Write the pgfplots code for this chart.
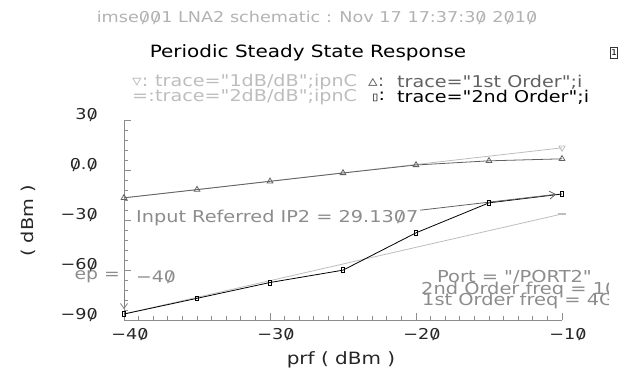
\documentclass[border=0pt]{standalone}
\usepackage{fontspec}
\setmainfont{DejaVu Sans}[FakeStretch=1.18, Ligatures=TeXOff]
\usepackage{graphicx}
\usepackage{pgfplots}
\pgfplotsset{compat=1.18}
\usetikzlibrary{arrows.meta}

\definecolor{axgray}{gray}{0.55}
\definecolor{lgray}{gray}{0.74}
\definecolor{dgray}{gray}{0.38}
\definecolor{tgray}{gray}{0.55}
\definecolor{hgray}{gray}{0.7}

\newcommand{\fs}[1]{\fontsize{#1}{#1}\selectfont}
\newcommand{\z}{\ooalign{0\cr\hidewidth\raisebox{-0.02em}{\scalebox{0.9}[0.85]{/}}\hidewidth\cr}}

\begin{document}
\begin{tikzpicture}[x=1bp,y=1bp]
\path[use as bounding box] (0,0) rectangle (627,369);
\begin{axis}[at={(124bp,49bp)}, anchor=south west, scale only axis,
  width=438bp, height=200bp,
  xmin=-40, xmax=-10, ymin=-90, ymax=30,
  axis lines*=left,
  axis line style={axgray, line width=0.8pt},
  xtick={-40,-30,-20,-10}, xticklabels={−4\z,−3\z,−2\z,−1\z},
  minor x tick num=9,
  ytick={-90,-60,-30,0,30}, yticklabels={−9\z,−6\z,−3\z,\z.\z,3\z},
  minor y tick num=4,
  tick style={axgray, line width=0.8pt},
  major tick length=7bp, minor tick length=4bp,
  tick align=inside,
  xticklabel style={anchor=north, inner sep=0pt, yshift=-8bp, xshift=6bp, font=\fs{15}, text=black!85},
  yticklabel style={anchor=east, inner sep=0pt, xshift=-26bp, yshift=5bp, font=\fs{15}, text=black!85},
  clip=false]
% 1dB/dB reference line
\addplot[lgray, line width=0.8pt, mark=triangle, mark indices={2}, mark size=3.5bp,
  mark options={rotate=180, solid}] coordinates {(-40,-16.7) (-10,13.3)};
% 2dB/dB reference line
\addplot[lgray, line width=0.8pt, mark=-, mark indices={2}, mark size=4bp,
  mark options={line width=1.5pt}] coordinates {(-40,-86.4) (-10,-26.4)};
% 1st order
\addplot[dgray, line width=0.8pt, mark=triangle, mark size=3.3bp] coordinates {
  (-40,-16.7) (-35,-11.8) (-30,-6.8) (-25,-1.8) (-20,3.0) (-15,5.5) (-10,6.7)};
% 2nd order
\addplot[black, line width=0.8pt, mark=square, mark size=2.4bp, mark options={xscale=0.6}] coordinates {
  (-40,-86.4) (-35,-77.0) (-30,-67.5) (-25,-60.1) (-20,-37.7) (-15,-19.7) (-10,-14.4)};
% IP2 annotation arrow
\addplot[dgray, line width=0.8pt, -{Straight Barb[length=6bp,width=8bp]}] coordinates {(-19.7,-24.1) (-10.4,-14.6)};
% extrapolation point arrow
\addplot[gray, line width=0.8pt, -{Straight Barb[length=5bp,width=7bp]}] coordinates {(-40,-74) (-40,-83.5)};
\end{axis}

% header and title
\node[text=hgray, font=\fs{15}, inner sep=0pt] at (317,351) {imse\z\z1 LNA2 schematic : Nov 17 17:37:3\z{} 2\z1\z};
\node[text=black, font=\fs{17}, inner sep=0pt] at (308,316) {Periodic Steady State Response};
\node[draw=black!80, line width=0.6pt, minimum width=7bp, minimum height=11bp, inner sep=0pt, font=\fs{8}] at (614,316) {1};

% legend
\node[anchor=west, inner sep=0pt, text=lgray, font=\fs{16.3}] at (132,287) {▿:};
\node[anchor=west, inner sep=0pt, text=lgray, font=\fs{16.3}] at (155,287) {trace="1dB/dB";ipnC};
\node[anchor=west, inner sep=0pt, text=lgray, font=\fs{16.3}] at (132,272) {=:};
\node[anchor=west, inner sep=0pt, text=lgray, font=\fs{16.3}] at (155,272) {trace="2dB/dB";ipnC};
\node[anchor=west, inner sep=0pt, text=dgray, font=\fs{16.3}] at (368,287) {▵:};
\node[anchor=west, inner sep=0pt, text=dgray, font=\fs{16.3}] at (397,287) {trace="1st Order";i};
\node[anchor=west, inner sep=0pt, text=black, font=\fs{16.3}] at (372,272) {\scalebox{0.6}{▯}:};
\node[anchor=west, inner sep=0pt, text=black, font=\fs{16.3}] at (397,272) {trace="2nd Order";i};

% axis labels
\node[rotate=90, inner sep=0pt, text=black!85, font=\fs{16.4}] at (28,148) {( dBm )};
\node[inner sep=0pt, text=black!85, font=\fs{17}] at (341,9) {prf ( dBm )};

% annotations
\node[anchor=west, inner sep=0pt, text=tgray, font=\fs{16.4}] at (136,151) {Input Referred IP2 = 29.13\z7};
\node[anchor=east, inner sep=0pt, text=tgray, font=\fs{16}] at (120,92) {ep =};
\node[anchor=west, inner sep=0pt, text=tgray, font=\fs{16}] at (136,92) {−4\z};
\begin{scope}
\clip (0,0) rectangle (608,369);
\node[anchor=west, inner sep=0pt, text=tgray, font=\fs{16.5}] at (437,92) {Port = "/PORT2"};
\node[anchor=west, inner sep=0pt, text=tgray, font=\fs{16.5}] at (421,79.5) {2nd Order freq = 1\z};
\node[anchor=west, inner sep=0pt, text=tgray, font=\fs{16.5}] at (422,68) {1st Order freq = 4G};
\end{scope}
\end{tikzpicture}
\end{document}
